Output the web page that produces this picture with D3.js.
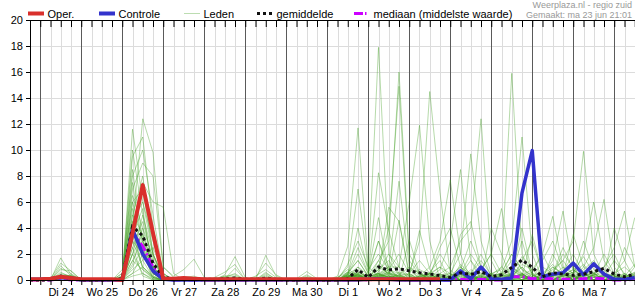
<!DOCTYPE html>
<html>
<head>
<meta charset="utf-8">
<script src="https://cdn.jsdelivr.net/npm/d3@7"></script>
<style>
body { margin: 0; background: #fff; }
svg { display: block; font-family: "Liberation Sans", Arial, sans-serif; }
</style>
</head>
<body>
<svg width="635" height="300"></svg>
<script>
// 6-hourly steps, from ma 23 jun 18:00 to di 8 jul 12:00
const start = new Date(2025, 5, 23, 18);
const times = d3.range(60).map(i => d3.timeHour.offset(start, 6 * i));

const dayLabels = ["Di 24", "Wo 25", "Do 26", "Vr 27", "Za 28", "Zo 29", "Ma 30",
  "Di 1", "Wo 2", "Do 3", "Vr 4", "Za 5", "Zo 6", "Ma 7"];
const yTicks = [0, 2, 4, 6, 8, 10, 12, 14, 16, 18, 20];

// groups: 18h | Di24 | Wo25 | Do26 | Vr27 | Za28 | Zo29 | Ma30 | Di1 | Wo2 | Do3 | Vr4 | Za5 | Zo6 | Ma7 | Di8
const oper = [.05, .05,.1,.25,.15, .05,.05,.05,.05, 0,3.6,7.3,3.6, .1,.1,.15,.1, .05,.05,.05,.05,
  .05,.05,.05,.05, .05,.05,.05,.05, .05,.05,.05,.05, .05,.05,.05,.05, .05,.05,.05,.05];

const controle = [.05, .05,.1,.2,.15, 0,0,0,0, 0,3.9,2,.7, .05,0,0,0, 0,0,0,0, 0,0,0,0, 0,0,0,0,
  0,0,0,0, .05,.1,.05,0, 0,0,0,0, 0,.7,.1,1, .1,.05,.15,6.7, 9.95,.25,.45,.55, 1.3,.4,1.25,.45, .05,.05,.2];

const gemiddelde = [0, 0,.02,.3,.1, 0,0,0,.02, .1,4.1,3.4,1.3, .2,.1,.1,.1, .05,.05,.1,.15, .05,.05,.15,.05,
  0,0,.05,0, 0,0,.1,.8, .2,1,.77,.87, .7,.56,.46,.33, .2,.56,.43,.64, .26,.4,.97,1.54,
  .97,.25,.56,.45, .36,.45,.64,.9, .45,.25,.45];

const mediaan = [0, 0,0,.1,0, 0,0,0,0, 0,3.6,2.6,1, .1,0,0,0, 0,0,0,0, 0,0,0,0, 0,0,0,0,
  0,0,0,.1, 0,.1,.1,.05, 0,0,0,0, 0,.05,0,.05, 0,0,.25,.25, .1,.15,.1,.05, .05,.1,.15,.1, 0,0,.05];

const leden = [
  [0, 0,0,1.7,.4, 0,0,0,0, 0,11.6,6,2, .3,0,0,0, 0,.1,.3,.2, 0,0,.2,0, 0,0,0,0, 0,0,1.2,3, 1,17.9,2,.5, .3,0,.5,1, 0,.4,1.5,.5, 0,0,.8,.3, 0,.5,1.2,.3, 0,.8,1.5,.4, 0,.2,.6],
  [0, 0,.1,1.3,.7, 0,0,0,0, .2,4,12.4,9.8, 1,.2,0,0, 0,0,.2,.5, 0,.3,.8,.2, 0,0,0,0, 0,.2,.8,.4, 0,1.5,3,16, 2,.5,0,0, .3,1,.4,0, 0,.6,2,.8, .4,0,0,.3, .6,1.8,.5,0, 0,.3,1.2],
  [0, 0,0,1.1,.3, 0,0,0,0, 0,9.5,11,4, .5,0,0,0, 0,0,.4,1.8, .2,0,.5,.1, 0,0,.3,0, 0,0,.5,1.5, .3,.8,4,14.9, 1.5,.4,0,.2, .5,0,0,.8, 2,.5,.3,1, .2,0,.5,2.5, .8,.2,0,.5, .3,0,.4],
  [0, 0,0,.9,.5, 0,0,.1,0, .5,8,10,5, .5,0,0,0, 0,.2,.6,1.2, 0,0,1.9,.3, 0,0,.2,0, 0,.3,2.6,11.7, 1,.3,.6,.2, 0,.5,.2,0, 0,.8,3,1, .2,0,.5,0, 0,1.5,3,.8, 0,.4,.2,0, .5,1,.3],
  [0, 0,0,.8,.7, 0,0,0,0, 0,7,9,8, 1,.3,.8,1.6, .2,0,.3,.4, 0,.2,1.3,.4, 0,.1,.65,.1, 0,.1,1,7, .8,2,.8,.3, 0,0,.3,.1, 0,1.2,.5,0, .4,1,.3,4, .5,0,.3,.6, 2,.5,0,0, .2,.5,0],
  [0, 0,0,.6,.2, 0,0,0,0, .3,6,3,1, .2,0,.2,.3, 0,0,.1,.9, 0,0,.6,0, 0,0,.4,0, 0,0,.4,2, .5,8.25,3.8,1, 0,0,.5,2, .8,0,0,.3, .5,0,0,1.5, 3,.5,0,0, .3,0,.4,2, .5,0,0],
  [0, 0,0,.5,.3, 0,0,0,0, 0,5,8,2, .1,0,0,0, 0,0,0,.3, 0,0,.3,0, 0,0,0,0, 0,0,.2,.8, 0,.5,1,7.6, 1,0,0,.4, 0,.5,2,.8, 0,.3,1,.4, 0,0,.6,1.5, .4,3,.8,0, 0,0,.3],
  [0, 0,0,.4,.1, 0,0,0,0, 0,3,7.5,6, 5.6,.5,0,0, 0,0,.2,0, 0,0,0,0, 0,0,0,0, 0,.2,.6,.3, 0,.4,1,1, 6,11.9,3,0, 0,.5,0,0, 0,.4,.8,.2, 0,1,.5,0, .2,0,1.2,.6, 0,2.5,1],
  [0, 0,0,.3,.2, 0,0,0,0, .5,10,5,1, 0,0,0,0, 0,0,.1,.2, 0,0,.4,0, 0,0,0,0, 0,0,.3,.5, 0,.2,.5,.3, .5,3,14.5,6.7, .5,0,.3,1, 0,0,.4,1.2, .8,0,0,.5, .3,.6,0,0, 0,0,.2],
  [0, 0,0,.4,.3, 0,0,0,0, 0,6.5,4,.5, 0,0,0,0, 0,0,.2,0, 0,0,0,0, 0,0,0,0, 0,0,.2,.4, .2,1,.5,0, 0,.3,1,3, 7.7,2,0,0, 0,.5,1,.3, .6,2,.4,0, 0,0,.5,1, 2,.3,0],
  [0, 0,0,.3,.1, 0,0,0,0, .2,4.5,6,3, .3,0,0,0, 0,0,0,.2, 0,0,.2,0, 0,0,0,0, 0,0,.6,1.5, .3,0,.8,2, .5,0,.2,.8, 3,8.5,1.5,0, 0,0,.2,.5, 0,0,1,.4, 0,.5,0,.3, 1.5,.5,0],
  [0, 0,0,.2,.1, 0,0,0,0, 0,2,5,2, .2,0,0,0, 0,0,0,.1, 0,0,.2,0, 0,0,0,0, 0,0,.4,.2, 0,.6,2,1, .3,0,0,.4, .5,2,9.7,3, .5,0,0,0, .2,0,.5,2, 1,0,0,.2, .4,0,.5],
  [0, 0,0,.2,.4, 0,0,0,0, 0,5.5,2,.3, 0,0,0,0, 0,0,0,0, 0,0,0,0, 0,0,0,0, 0,0,.3,.6, .2,.5,0,.4, 1,.5,0,.5, 1,3,4,12.4, 1.5,0,.4,.2, 0,.5,0,0, .5,1.2,.3,0, 0,0,.4],
  [0, 0,0,.3,.1, 0,0,0,0, .8,3.5,1,.2, 0,0,0,0, 0,0,0,0, 0,0,.1,0, 0,0,0,0, 0,0,.4,1, 0,1.2,.4,0, .2,0,.6,1.5, 0,.5,0,.8, 2,5.5,1,.5, 0,0,.3,.6, 0,.5,1.4,.3, 0,0,0],
  [0, 0,0,.1,.2, 0,0,0,0, 0,2.5,4.5,1.5, .1,0,0,0, 0,0,0,0, 0,0,0,0, 0,0,0,0, 0,0,.2,.1, 0,.3,.8,.2, 0,.4,.3,0, .2,0,.8,.3, 0,1,15.9,2, .4,0,0,.3, 0,.6,0,.5, .3,0,.2],
  [0, 0,0,.3,.2, 0,0,0,0, 0,7.5,2.5,.5, 0,0,0,0, 0,0,0,0, 0,0,0,0, 0,0,0,0, 0,0,.1,.5, 0,.2,0,.6, .4,0,0,.2, 0,.3,0,0, .5,.8,3,11, 2,0,0,0, .4,0,.3,.8, 0,.5,0],
  [0, 0,0,.2,.1, 0,0,0,0, 0,1.5,3,.8, 0,0,0,0, 0,0,0,0, 0,0,0,0, 0,0,0,0, 0,0,.3,.2, .4,1.5,.3,0, 0,.2,.5,0, 0,0,.5,2, .3,0,0,.5, 0,.3,.8,1.5, 3,9.9,2,.3, 0,.4,0],
  [0, 0,0,.2,.3, 0,0,0,0, .3,4,.8,.2, 0,0,0,0, 0,0,0,0, 0,0,0,0, 0,0,0,0, 0,0,.5,.3, 0,.8,1.5,.4, 0,0,.2,.5, 0,0,0,0, .3,.5,2,.8, 0,0,.3,1, .5,2,6,1.5, .3,0,1],
  [0, 0,0,.2,.1, 0,0,0,0, 0,3,2,.5, 0,0,0,0, 0,0,0,0, 0,0,0,0, 0,0,0,0, 0,0,.2,.4, 0,.3,.6,.3, .2,.6,0,0, .2,1,.4,0, 0,.3,.5,0, 0,.4,1,.5, 0,1,2.5,6.2, 1,0,.3],
  [0, 0,0,.1,.1, 0,0,0,0, 0,.8,1.5,2.5, .5,0,0,0, 0,0,0,0, 0,0,0,0, 0,0,0,0, 0,0,.2,.3, 0,.5,.2,0, .3,.8,.4,0, 0,0,.5,1.5, .4,0,.2,.4, .8,2,4.9,1, 0,0,.4,.5, 0,.3,0],
  [0, 0,0,.2,.2, 0,0,0,0, 0,2,.5,0, 0,0,0,0, 0,0,0,0, 0,0,0,0, 0,0,0,0, 0,0,.1,.2, 0,.4,.8,.5, 0,.3,.5,.4, .2,0,0,.3, 0,0,.6,1.8, .5,.3,1.5,5.3, .8,0,0,.4, 0,0,.6],
  [0, 0,0,.1,.1, 0,0,0,0, 0,1,2.5,1, 0,0,0,0, 0,0,0,0, 0,0,0,0, 0,0,0,0, 0,0,0,.3, 0,.2,.3,0, .5,1.5,.5,0, 0,0,0,.2, .3,.5,0,0, 0,.3,0,.4, .8,0,.4,1, 2.5,5.3,1],
  [0, 0,0,.3,.2, 0,0,0,0, 0,5,3.5,1, .2,0,0,0, 0,0,0,0, 0,0,0,0, 0,0,0,0, 0,0,.3,.6, .3,.5,0,.3, 0,0,.4,1, .5,0,.3,0, 0,.4,1.5,.5, 0,0,.5,.2, 0,.6,.3,0, .5,1.5,4.8],
  [0, 0,0,.2,.1, 0,0,0,0, 0,3.5,5.5,.5, 0,0,0,0, 0,0,0,0, 0,0,0,0, 0,0,0,0, 0,0,.5,2.5, .5,4.8,.6,0, 0,.3,0,0, 0,.4,0,.5, .3,0,.5,3, .4,0,0,.3, .6,0,.5,0, 0,.4,0],
  [0, 0,0,.1,.1, 0,0,0,0, 0,.5,1,.3, 0,0,0,0, 0,0,0,0, 0,0,0,0, 0,0,0,0, 0,0,.2,.4, 0,.6,5.6,4.5, .5,0,0,0, .4,0,0,.3, 0,0,.2,.4, 0,0,0,.5, .3,0,0,.4, 0,0,.3],
  [0, 0,0,.2,.1, 0,0,0,0, 0,4,2.5,0, 0,0,0,0, 0,0,0,0, 0,0,0,0, 0,0,0,0, 0,0,.4,4, .6,3,.5,0, 3.1,.5,0,0, 0,.3,.6,0, .3,0,0,.4, 0,.5,.2,0, 0,.5,.3,0, 0,0,0],
  [0, 0,0,.1,.2, 0,0,0,0, 0,2.5,.3,0, 0,0,0,0, 0,0,0,0, 0,0,0,0, 0,0,0,0, 0,0,.3,.3, 0,.3,.4,4.6, .3,3.8,.8,0, 0,.5,0,0, 0,.4,0,0, .3,0,.3,.6, 0,.3,.6,0, .2,0,0],
  [0, 0,0,.3,.3, 0,0,0,0, 0,1.2,4,1.8, .1,0,0,0, 0,0,0,0, 0,0,0,0, 0,0,0,0, 0,0,.2,1, .4,3,1,0, 0,0,.3,2.5, 4,1,0,0, 0,.3,.2,0, .4,0,0,.3, .8,.3,0,.2, .5,0,0],
  [0, 0,0,.2,.1, 0,0,0,0, .1,6,7,2, 0,0,0,0, 0,0,0,0, 0,0,0,0, 0,0,0,0, 0,0,.6,.4, 0,.4,.2,0, 0,0,.5,0, 0,3.5,4.5,1, 0,.3,.4,0, 0,0,.4,.6, .4,0,0,.3, 0,0,.3],
  [0, 0,0,.2,.1, 0,0,0,0, 0,.3,.5,.1, 0,0,0,0, 0,0,0,0, 0,0,0,0, 0,0,0,0, 0,0,.1,.2, 0,.2,.3,0, 0,.2,0,0, 0,0,.2,0, 4,2,0,0, .5,0,0,0, 0,.2,0,0, 0,0,0],
  [0, 0,0,.1,.2, 0,0,0,0, 0,3,1,.2, 0,0,0,0, 0,0,0,0, 0,0,0,0, 0,0,0,0, 0,0,.3,.2, 0,.3,0,.2, 0,.2,.5,0, 0,0,0,.4, .5,.3,0,.2, 3.5,.5,0,0, .3,0,.2,0, 0,.3,0],
  [0, 0,0,.3,.2, 0,0,0,0, 0,8.5,3,.5, .1,0,0,0, 0,0,0,0, 0,0,0,0, 0,0,0,0, 0,0,.2,.3, 0,.2,.5,.2, 0,0,.2,.3, 0,0,.4,0, 0,0,.3,1, 0,0,2,.5, 0,.3,.5,0, 0,0,.2],
  [0, 0,0,.2,.1, 0,0,0,0, 0,2,3.5,1, 0,0,0,0, 0,0,0,0, 0,0,0,0, 0,0,0,0, 0,0,.4,.2, 0,.4,.3,0, 0,0,.2,0, .3,0,0,.2, 0,0,.4,.3, 0,0,0,.4, 3.5,1,.5,0, 0,0,0],
  [0, 0,0,.1,.1, 0,0,0,0, 0,4.5,1.5,.2, 0,0,0,0, 0,0,0,0, 0,0,0,0, 0,0,0,0, 0,0,.2,.5, .3,0,.2,.4, 0,0,0,.2, 0,.2,.3,0, 0,.2,0,.2, 0,0,.3,0, 0,.4,.2,.3, 4,1.5,0],
  [0, 0,0,.1,.2, 0,0,0,0, 0,1.5,.8,.1, 0,0,0,0, 0,0,0,0, 0,0,0,0, 0,0,0,0, 0,0,.1,.2, 0,0,.3,.2, 0,0,0,.3, 0,.6,0,.2, 0,0,.3,.2, 0,.2,0,0, .2,0,0,0, .3,0,0],
  [0, 0,0,.2,.2, 0,0,0,0, 0,.5,2,1.5, .3,0,0,0, 0,0,0,0, 0,0,0,0, 0,0,0,0, 0,0,.2,.4, .2,.5,.2,0, 0,.3,0,0, 0,0,0,.4, 0,0,.2,.5, 0,0,.3,.5, 0,0,.4,0, 0,0,.5]
];

const svg = d3.select("svg");
const plotLeft = 30, plotTop = 20, plotBottom = 280, plotRight = 635;

const x = d3.scaleTime().domain([times[0], times[59]]).range([plotLeft, 634.75]);
const y = d3.scaleLinear().domain([0, 20]).range([plotBottom, plotTop]);

const sixHours = d3.timeHour.every(6).range(times[0], d3.timeHour.offset(times[59], 7));
const midnights = sixHours.filter(d => d.getHours() === 0);
const noons = sixHours.filter(d => d.getHours() === 12).slice(0, dayLabels.length);

// grid
const grid = svg.append("g");
grid.selectAll(".hg").data(yTicks.filter(v => v > 0 && v < 20)).join("line")
  .attr("x1", plotLeft).attr("x2", plotRight).attr("y1", d => y(d) + .5).attr("y2", d => y(d) + .5)
  .attr("stroke", "#dcdcdc");
grid.selectAll(".vg").data(sixHours.filter(d => d.getHours() !== 0 && x(d) > plotLeft)).join("line")
  .attr("x1", d => Math.round(x(d)) + .5).attr("x2", d => Math.round(x(d)) + .5)
  .attr("y1", plotTop).attr("y2", plotBottom).attr("stroke", "#dcdcdc");
grid.selectAll(".dg").data(midnights).join("line")
  .attr("x1", d => Math.round(x(d)) + .5).attr("x2", d => Math.round(x(d)) + .5)
  .attr("y1", plotTop).attr("y2", plotBottom).attr("stroke", "#5a5a5a");

const line = d3.line().x((d, i) => x(times[i])).y(d => y(d));

svg.append("g").selectAll("path").data(leden).join("path")
  .attr("d", line).attr("fill", "none")
  .attr("stroke", "#3f9e1f").attr("stroke-opacity", .38).attr("stroke-width", 1);

svg.append("path").attr("d", line(mediaan)).attr("fill", "none")
  .attr("stroke", "#cc00ff").attr("stroke-width", 3).attr("stroke-dasharray", "9,3,2,3");
svg.append("path").attr("d", line(controle)).attr("fill", "none")
  .attr("stroke", "#3333cc").attr("stroke-width", 3.5).attr("stroke-linejoin", "round");
svg.append("path").attr("d", line(gemiddelde)).attr("fill", "none")
  .attr("stroke", "#111").attr("stroke-width", 3).attr("stroke-dasharray", "3,3");
svg.append("path").attr("d", line(oper)).attr("fill", "none")
  .attr("stroke", "#d9302c").attr("stroke-width", 4).attr("stroke-linejoin", "round");

// axes
const axisBottom = svg.append("g").attr("transform", `translate(0,${plotBottom})`)
  .call(d3.axisBottom(x).tickValues(sixHours).tickSize(5).tickFormat(""));
axisBottom.select(".domain").attr("stroke", "#000");
svg.append("g").attr("transform", `translate(0,${plotBottom})`)
  .call(d3.axisBottom(x).tickValues(noons).tickSize(0).tickPadding(8)
    .tickFormat((d, i) => dayLabels[i]))
  .call(g => g.select(".domain").remove())
  .selectAll("text").attr("font-size", 11).attr("font-family", "Liberation Sans, Arial").attr("fill", "#000");

svg.append("g").attr("transform", `translate(0,${plotTop})`)
  .call(d3.axisTop(x).tickValues(sixHours).tickSizeInner(-7).tickSizeOuter(0).tickFormat(""))
  .select(".domain").attr("d", `M${plotLeft},0.5H${plotRight}`);

svg.append("g").attr("transform", `translate(${plotLeft},0)`)
  .call(d3.axisLeft(y).tickValues(yTicks).tickSize(4).tickPadding(3))
  .call(g => g.select(".domain").attr("d", `M0.5,${plotTop}V${plotBottom}`))
  .selectAll("text").attr("font-size", 11).attr("font-family", "Liberation Sans, Arial").attr("fill", "#000");

// legend
const legendItems = [
  { label: "Oper.", color: "#d9302c", width: 4, dash: null, op: 1, at: 28 },
  { label: "Controle", color: "#3333cc", width: 4, dash: null, op: 1, at: 99 },
  { label: "Leden", color: "#3f9e1f", width: 1, dash: null, op: .35, at: 184 },
  { label: "gemiddelde", color: "#111", width: 3, dash: "3,3", op: 1, at: 257 },
  { label: "mediaan (middelste waarde)", color: "#cc00ff", width: 3, dash: "9,2,1.5,10", op: 1, at: 354 }
];
const legend = svg.append("g").attr("font-size", 11);
legendItems.forEach(it => {
  legend.append("line").attr("x1", it.at).attr("x2", it.at + 16).attr("y1", 13.5).attr("y2", 13.5)
    .attr("stroke", it.color).attr("stroke-width", it.width).attr("stroke-opacity", it.op)
    .attr("stroke-dasharray", it.dash);
  legend.append("text").attr("x", it.at + 19.5).attr("y", 17.5).text(it.label);
});

svg.append("text").attr("x", 632).attr("y", 7.5).attr("text-anchor", "end")
  .attr("font-size", 9).attr("fill", "#999").text("Weerplaza.nl - regio zuid");
svg.append("text").attr("x", 632).attr("y", 17.5).attr("text-anchor", "end")
  .attr("font-size", 9).attr("fill", "#999").text("Gemaakt: ma 23 jun 21:01");
</script>
</body>
</html>
